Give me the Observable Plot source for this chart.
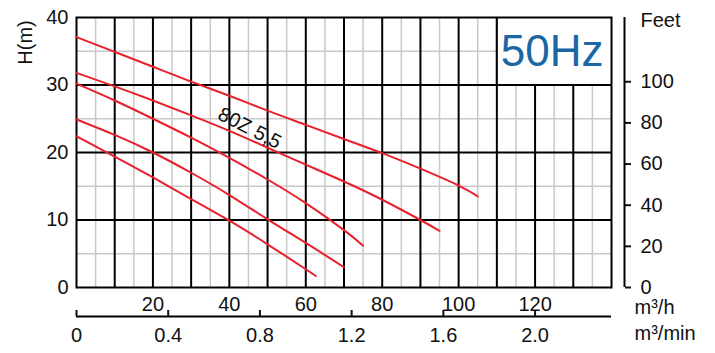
<!DOCTYPE html>
<html><head><meta charset="utf-8">
<script src="https://cdn.jsdelivr.net/npm/d3@7"></script>
<script src="https://cdn.jsdelivr.net/npm/@observablehq/plot@0.6"></script>
<style>html,body{margin:0;padding:0;background:#fff}</style>
</head><body><div id="chart"></div>
<script>
// ---- data (flow in m³/h, head in m) ----
const curveNames = ["c1", "c2", "c3", "c4", "c5"];
const flowC1 = [0, 10, 20, 30, 40, 50, 60, 70, 80, 90, 100, 105];
const headC1 = [37.1, 34.9, 32.7, 30.5, 28.4, 26.2, 24.1, 22.0, 19.9, 17.6, 15.1, 13.5];
const flowC2 = [0, 10, 20, 30, 40, 50, 60, 70, 80, 90, 95];
const headC2 = [31.8, 29.8, 27.7, 25.5, 23.2, 20.7, 18.2, 15.7, 13.0, 10.0, 8.4];
const flowC3 = [0, 10, 20, 30, 40, 50, 60, 70, 75];
const headC3 = [30.2, 27.7, 25.0, 22.2, 19.2, 16.0, 12.5, 8.5, 6.2];
const flowC4 = [0, 10, 20, 30, 40, 50, 60, 70];
const headC4 = [24.9, 22.6, 20.0, 17.0, 13.7, 10.1, 6.6, 3.0];
const flowC5 = [0, 10, 20, 30, 40, 50, 60, 62.6];
const headC5 = [22.4, 19.4, 16.3, 13.1, 9.9, 6.4, 2.7, 1.7];

const headTicks = [0, 10, 20, 30, 40];
const flowTicks = [20, 40, 60, 80, 100, 120];
const feetTicks = [0, 20, 40, 60, 80, 100];
const minTicks = [0, 0.4, 0.8, 1.2, 1.6, 2.0];
const minLabels = ["0", "0.4", "0.8", "1.2", "1.6", "2.0"];
const modelLabel = "80Z 5,5";
const freqLabel = "50Hz";
const yTitle = "H(m)";
const feetTitle = "Feet";
const flowUnitH = "m³/h";
const flowUnitMin = "m³/min";

const M_PER_FT = 0.3048;
const M3H_PER_M3MIN = 60;

const flows = [flowC1, flowC2, flowC3, flowC4, flowC5];
const heads = [headC1, headC2, headC3, headC4, headC5];
const rows = [];
curveNames.forEach((name, k) => flows[k].forEach((q, i) => rows.push({curve: name, q, h: heads[k][i]})));

const font = "'Liberation Sans', Arial, Helvetica, sans-serif";
const red = "#e8202a";
const minor = "#c9c9c9";
const fs = 20;

const chart = Plot.plot({
  width: 715, height: 353,
  marginLeft: 76, marginRight: 104, marginTop: 17, marginBottom: 66,
  style: {fontFamily: font, fontSize: fs + "px", color: "#111", background: "white", overflow: "visible"},
  x: {domain: [0, 140], axis: null},
  y: {domain: [0, 40], axis: null},
  marks: [
    Plot.ruleX(d3.range(5, 140, 10), {stroke: minor, strokeWidth: 1.5}),
    Plot.ruleY(d3.range(5, 40, 10), {stroke: minor, strokeWidth: 1.5}),
    Plot.ruleX(d3.range(10, 140, 10), {stroke: "#000", strokeWidth: 2}),
    Plot.ruleY([10, 20, 30], {stroke: "#000", strokeWidth: 2}),
    Plot.rect([0], {x1: 110, x2: 140, y1: 30, y2: 40, fill: "white"}),
    Plot.ruleX([110], {y1: 30, y2: 40, stroke: "#000", strokeWidth: 2}),
    Plot.ruleY([30], {x1: 110, x2: 140, stroke: "#000", strokeWidth: 2}),
    Plot.frame({stroke: "#000", strokeWidth: 2}),
    Plot.line(rows, {x: "q", y: "h", z: "curve", stroke: red, strokeWidth: 2, curve: "natural"}),
    Plot.text([modelLabel], {x: 45.3, y: 23.6, rotate: 27, fontSize: 20, fill: "#111"}),
    Plot.text([freqLabel], {frameAnchor: "top-right", dx: -8, dy: 34, textAnchor: "end", lineAnchor: "middle", fontSize: 44, fill: "#1a67a3"}),
    // left axis
    Plot.axisY(headTicks, {anchor: "left", tickSize: 0, tickPadding: 8, fontSize: fs, label: null}),
    Plot.text([yTitle], {frameAnchor: "top-left", dx: -51, dy: 25, rotate: -90, fontSize: fs, textAnchor: "middle", lineAnchor: "middle"}),
    // right feet axis
    Plot.ruleX([140], {dx: 13, stroke: "#000", strokeWidth: 2}),
    Plot.axisY(feetTicks, {y: d => d * M_PER_FT, anchor: "right", tickSize: 6, tickPadding: 10, dx: 13, strokeWidth: 2, text: d => String(d), fontSize: fs, label: null}),
    Plot.text([feetTitle], {frameAnchor: "top-right", dx: 29, dy: 3, textAnchor: "start", lineAnchor: "middle", fontSize: fs}),
    // bottom axes
    Plot.axisX(flowTicks, {anchor: "bottom", tickSize: 0, tickPadding: 9, fontSize: fs, label: null}),
    Plot.ruleY([0], {dy: 29, stroke: "#000", strokeWidth: 2}),
    Plot.axisX(minTicks, {x: d => d * M3H_PER_M3MIN, anchor: "bottom", tickSize: 6, tickPadding: 11, dy: 23, strokeWidth: 2, text: (d, i) => minLabels[i], fontSize: fs, label: null}),
    Plot.text([flowUnitH], {frameAnchor: "bottom-right", dx: 23, dy: 20, textAnchor: "start", lineAnchor: "middle", fontSize: fs}),
    Plot.text([flowUnitMin], {frameAnchor: "bottom-right", dx: 23, dy: 46, textAnchor: "start", lineAnchor: "middle", fontSize: fs})
  ]
});
document.getElementById("chart").appendChild(chart);
</script>
</body></html>
